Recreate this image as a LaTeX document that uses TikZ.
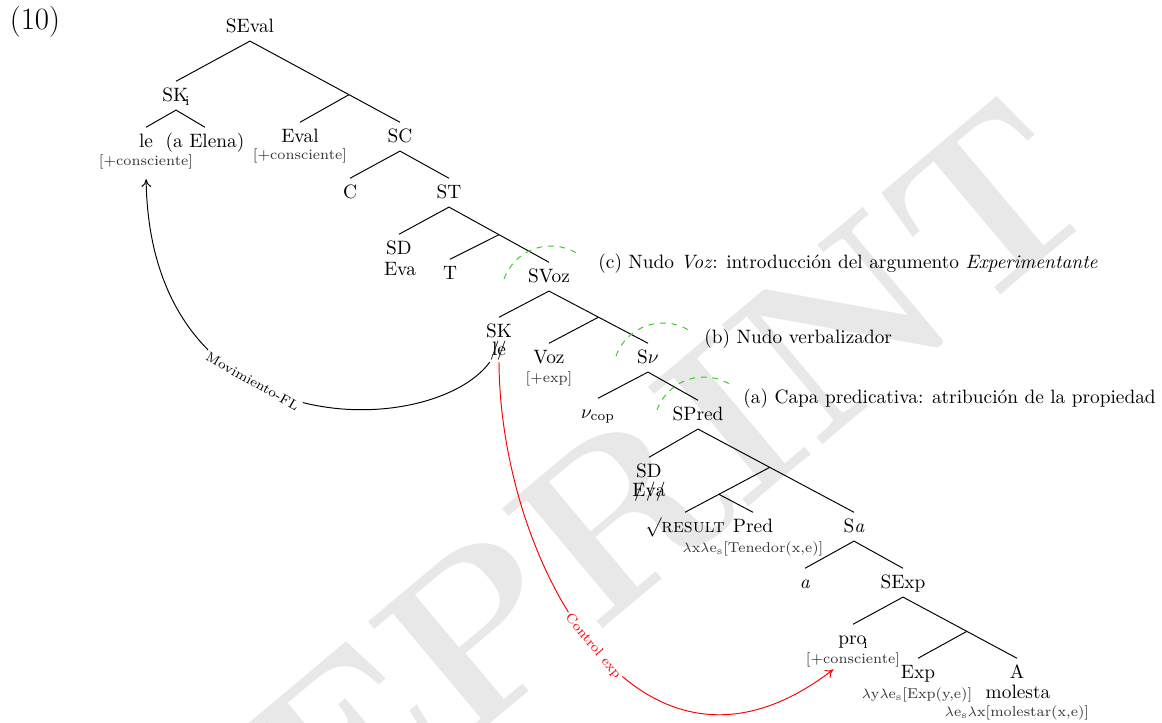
\documentclass[tikz,border=0pt]{standalone}
\usepackage{fontspec}
\usepackage{tikz}
\usetikzlibrary{calc}
\usetikzlibrary{arrows.meta}

\definecolor{verdecapa}{RGB}{60,200,40}
\newcommand\tach[1]{\ooalign{#1\cr\hidewidth/\hidewidth}}
\newcommand\idx[1]{\kern-1.6pt\raisebox{-2.2pt}{\scriptsize #1}}

\tikzset{
	cat/.style={anchor=base,inner sep=3pt,text height=7pt,text depth=1.5pt},
	pal/.style={anchor=base,inner sep=1pt},
	rasgo/.style={font=\fontsize{7.4}{8.5}\selectfont,text=black!80,inner sep=1pt},
	rama/.style={line width=0.5pt},
	capa/.style={verdecapa,dashed,line width=0.5pt},
	nota/.style={anchor=base west,inner sep=0pt},
	mov/.style={-{To[length=4pt,width=5pt]},line width=0.5pt},
	etiq/.style={font=\scriptsize,sloped,fill=white,inner sep=1pt}
}

\begin{document}
\begin{tikzpicture}[x=0.517pt,y=-0.517pt]
	\useasboundingbox (0,0) rectangle (1162,722);
	\clip (0,0) rectangle (1162,722);
	\node[rotate=40,text=black!9,inner sep=0pt,font=\fontsize{118}{118}\selectfont\bfseries] (marca) at (530,590) {PREPRINT};
	\node[font=\fontsize{16}{18}\selectfont] (num) at (35,22) {(10)};

	\node[cat] (seval) at (250,32) {SEval};
	\node[cat] (ski) at (176,101) {SK\idx{i}};
	\node[cat] (le) at (146,147) {le};
	\node[cat] (aelena) at (205,147) {(a Elena)};
	\node[rasgo] (lefeat) at (146,162) {[+consciente]};
	\node[cat] (eval) at (300,142) {Eval};
	\node[rasgo] (evalfeat) at (300,156) {[+consciente]};
	\node[cat] (sc) at (400,142) {SC};
	\node[cat] (c) at (350,198) {C};
	\node[cat] (st) at (449,198) {ST};
	\node[cat] (sd) at (399,254) {SD};
	\node[pal] (eva) at (400,275) {Eva};
	\node[cat] (t) at (450,279) {T};
	\node[cat] (svoz) at (549,282) {SVoz};
	\node[cat] (sk) at (499,337) {SK};
	\node[pal] (huella) at (499,355) {\tach{l}\tach{e}};
	\node[cat] (voz) at (549,363) {Voz};
	\node[rasgo] (vozfeat) at (549,379) {[+exp]};
	\node[cat] (snu) at (648,363) {S$\nu$};
	\node[cat] (vcop) at (598,418) {$\nu_{\mathrm{cop}}$};
	\node[cat] (spred) at (698,420) {SPred};
	\node[cat] (sd2) at (649,477) {SD};
	\node[pal] (huella2) at (649,496) {\tach{E}\tach{v}\tach{a}};
	\node[cat] (raiz) at (685,532) {$\surd$\textsc{result}};
	\node[cat] (pred) at (753,532) {Pred};
	\node[rasgo] (predfeat) at (753,549) {$\lambda$x$\lambda$e$_{\mathrm{s}}$[Tenedor(x,e)]};
	\node[cat] (sa) at (854,532) {S\textit{a}};
	\node[cat] (a) at (805,588) {\textit{a}};
	\node[cat] (sexp) at (903,588) {SExp};
	\node[cat] (pro) at (853,644) {pro\idx{i}};
	\node[rasgo] (profeat) at (853,660) {[+consciente]};
	\node[cat] (exp) at (918,678) {Exp};
	\node[rasgo] (expfeat) at (917,695) {$\lambda$y$\lambda$e$_{\mathrm{s}}$[Exp(y,e)]};
	\node[cat] (adj) at (1017,678) {A};
	\node[pal] (molesta) at (1018,698) {molesta};
	\node[rasgo] (adjfeat) at (1017,713) {$\lambda$e$_{\mathrm{s}}\lambda$x[molestar(x,e)]};

	\foreach \p/\h in {seval/ski,seval/sc,ski/le,ski/aelena,sc/c,sc/st,st/sd,st/svoz,svoz/sk,svoz/snu,snu/vcop,snu/spred,spred/sd2,spred/sa,sa/a,sa/sexp,sexp/pro,sexp/adj}
		\draw[rama] (\p.south) -- (\h.north);
	\coordinate (b1) at ($(seval.south)!0.66!(sc.north)$);
	\coordinate (b2) at ($(st.south)!0.5!(svoz.north)$);
	\coordinate (b3) at ($(svoz.south)!0.5!(snu.north)$);
	\coordinate (b4) at ($(spred.south)!0.46!(sa.north)$);
	\coordinate (b5) at ($(b4)!0.6!(raiz.north)$);
	\coordinate (b6) at ($(sexp.south)!0.56!(adj.north)$);
	\foreach \p/\h in {b1/eval,b2/t,b3/voz,b4/raiz,b5/pred,b6/exp}
		\draw[rama] (\p) -- (\h.north);

	\draw[capa] ($(svoz.base)+(2,14)$) ++(-160:50) arc[start angle=-160,end angle=-57,radius=50];
	\draw[capa] ($(snu.base)+(15,10)$) ++(-160:50) arc[start angle=-160,end angle=-57,radius=50];
	\draw[capa] ($(spred.base)+(6,7)$) ++(-160:50) arc[start angle=-160,end angle=-57,radius=50];
	\node[nota] (notac) at (598,268) {(c) Nudo \textit{Voz}: introducción del argumento \textit{Experimentante}};
	\node[nota] (notab) at (704,343) {(b) Nudo verbalizador};
	\node[nota] (notaa) at (743,403) {(a) Capa predicativa: atribución de la propiedad};

	\coordinate (meta) at ($(profeat.south)!0.4!(profeat.south west)$);
	\draw[mov,shorten >=4pt] (huella.south west) .. controls +(-56,77) and +(4,279) .. (lefeat.south) node[etiq,pos=0.6] {Movimiento-FL};
	\draw[mov,red] (huella.south) .. controls +(1,197) and +(-196,151) .. (meta) node[etiq,text=red,pos=0.5] {Control exp};
\end{tikzpicture}
\end{document}
